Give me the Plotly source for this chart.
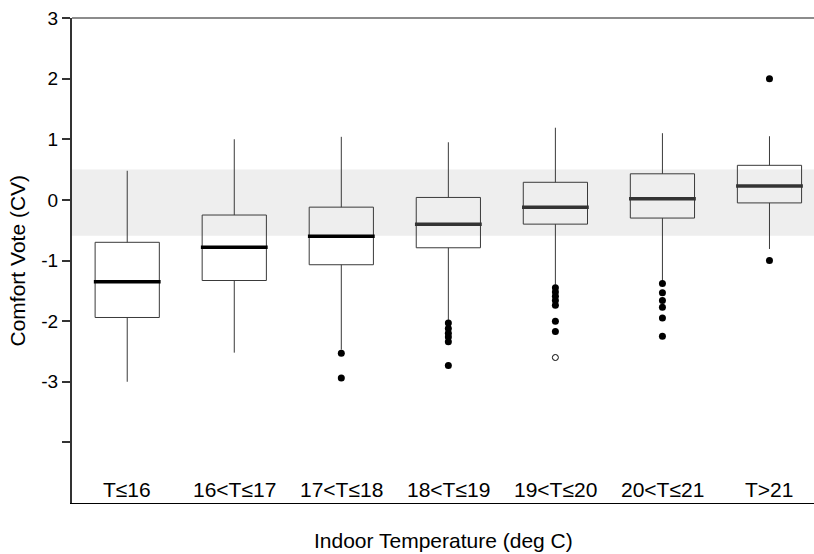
import plotly.graph_objects as go

categories = ["T≤16", "16<T≤17", "17<T≤18", "18<T≤19", "19<T≤20", "20<T≤21", "T>21"]
q1 = [-1.94, -1.33, -1.07, -0.79, -0.40, -0.30, -0.05]
median = [-1.35, -0.78, -0.60, -0.40, -0.12, 0.02, 0.23]
q3 = [-0.70, -0.25, -0.12, 0.04, 0.29, 0.43, 0.57]
upper_whisker = [0.48, 1.00, 1.04, 0.95, 1.19, 1.10, 1.05]
lower_whisker = [-3.00, -2.52, -2.47, -1.98, -1.40, -1.34, -0.81]
median_colors = ["#000000", "#000000", "#000000", "#333333", "#333333", "#333333", "#333333"]

outliers_filled = {
    2: [-2.53, -2.94],
    3: [-2.03, -2.12, -2.20, -2.26, -2.34, -2.73],
    4: [-1.45, -1.52, -1.59, -1.66, -1.74, -2.00, -2.17],
    5: [-1.38, -1.53, -1.66, -1.77, -1.95, -2.25],
    6: [2.00, -1.00],
}
outliers_open = {4: [-2.60]}

comfort_band = [-0.59, 0.5]
y_ticks = [3, 2, 1, 0, -1, -2, -3, -4]
y_tick_text = ["3", "2", "1", "0", "-1", "-2", "-3", ""]

FONT = "Liberation Sans, Arial, sans-serif"
xs = list(range(len(categories)))
BW = 0.6

fig = go.Figure()

fig.add_trace(go.Box(
    x=xs, q1=q1, median=median, q3=q3,
    lowerfence=lower_whisker, upperfence=upper_whisker,
    width=BW, whiskerwidth=0,
    fillcolor="rgba(255,255,255,0)",
    line=dict(color="#3a3a3a", width=1),
    boxpoints=False, showlegend=False, hoverinfo="skip",
))

# thick median bars
for i, m in enumerate(median):
    fig.add_trace(go.Scatter(
        x=[i - BW / 2 - 0.012, i + BW / 2 + 0.012], y=[m, m], mode="lines",
        line=dict(color=median_colors[i], width=3.5), showlegend=False, hoverinfo="skip",
    ))

ox, oy = [], []
for i, vals in outliers_filled.items():
    ox += [i] * len(vals)
    oy += vals
fig.add_trace(go.Scatter(x=ox, y=oy, mode="markers",
                         marker=dict(color="black", size=7, symbol="circle"),
                         showlegend=False, hoverinfo="skip"))
px_, py_ = [], []
for i, vals in outliers_open.items():
    px_ += [i] * len(vals)
    py_ += vals
fig.add_trace(go.Scatter(x=px_, y=py_, mode="markers",
                         marker=dict(color="white", size=6, symbol="circle",
                                     line=dict(color="black", width=1)),
                         showlegend=False, hoverinfo="skip"))

# comfort band
fig.add_shape(type="rect", xref="paper", yref="y", x0=0, x1=1,
              y0=comfort_band[0], y1=comfort_band[1],
              fillcolor="#eeeeee", line=dict(width=0), layer="below")
# top frame line
fig.add_shape(type="line", xref="paper", yref="paper", x0=0, x1=1, y0=1, y1=1,
              line=dict(color="#666666", width=1.5))

for i, c in enumerate(categories):
    fig.add_annotation(x=i, y=-4.78, xref="x", yref="y", text=c, showarrow=False,
                       font=dict(size=21, color="black", family=FONT),
                       xanchor="center", yanchor="middle")

fig.add_annotation(x=0.5, y=-0.078, xref="paper", yref="paper",
                   text="Indoor Temperature (deg C)", showarrow=False,
                   font=dict(size=21, color="black", family=FONT),
                   xanchor="center", yanchor="middle")
fig.add_annotation(x=-0.0728, y=0.5, xref="paper", yref="paper",
                   text="Comfort Vote (CV)", showarrow=False, textangle=-90,
                   font=dict(size=21, color="black", family=FONT),
                   xanchor="center", yanchor="middle")

fig.update_layout(
    width=814, height=554,
    margin=dict(l=72, r=0, t=18, b=51),
    paper_bgcolor="white", plot_bgcolor="white",
    font=dict(family=FONT, color="black"),
    xaxis=dict(range=[-0.516, 6.416], showgrid=False, zeroline=False,
               showticklabels=False, ticks="", showline=True,
               linecolor="black", linewidth=1),
    yaxis=dict(range=[-5, 3], tickvals=y_ticks, ticktext=y_tick_text,
               showgrid=False, zeroline=False, showline=True,
               linecolor="#333333", linewidth=2,
               ticks="outside", ticklen=8, tickcolor="#333333", tickwidth=1.5,
               tickfont=dict(size=19, color="black", family=FONT)),
)

fig.write_html("out.html", config={"displayModeBar": False},
               post_script="document.body.style.margin='0';document.body.style.overflow='hidden';")
